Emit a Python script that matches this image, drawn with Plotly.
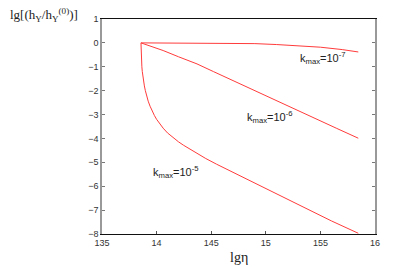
import plotly.graph_objects as go

# Data
x_k7 = [13.857, 14.2, 14.6, 14.9, 15.1, 15.3, 15.5, 15.7, 15.847]
y_k7 = [0.0, 0.0, -0.01, -0.03, -0.07, -0.12, -0.18, -0.28, -0.38]

x_k6 = [13.857, 13.95, 14.06, 14.2, 14.37, 14.52, 14.67, 14.86, 15.05, 15.25, 15.45, 15.65, 15.847]
y_k6 = [0.0, -0.14, -0.32, -0.58, -0.88, -1.2, -1.52, -1.92, -2.33, -2.76, -3.17, -3.58, -3.99]

x_k5 = [13.857, 13.8575, 13.8585, 13.860, 13.862, 13.865, 13.869, 13.874, 13.880, 13.888,
        13.897, 13.909, 13.923, 13.94, 13.96, 13.98, 14.0, 14.03, 14.06, 14.1, 14.15, 14.2,
        14.245, 14.3, 14.35, 14.45, 14.55, 14.7, 14.85, 15.0, 15.2, 15.4, 15.6, 15.847]
y_k5 = [0.0, -0.2, -0.4, -0.6, -0.8, -1.0, -1.2, -1.4, -1.6, -1.8,
        -2.0, -2.22, -2.44, -2.65, -2.86, -3.04, -3.2, -3.4, -3.57, -3.77, -3.97, -4.14,
        -4.28, -4.44, -4.58, -4.84, -5.08, -5.42, -5.76, -6.1, -6.55, -7.0, -7.45, -7.97]

x_ticks = [13.5, 14, 14.5, 15, 15.5, 16]
x_tick_labels = ["135", "14", "145", "15", "155", "16"]
y_ticks = [1, 0, -1, -2, -3, -4, -5, -6, -7, -8]

labels = ["k<sub>max</sub>=10<sup>-7</sup>", "k<sub>max</sub>=10<sup>-6</sup>", "k<sub>max</sub>=10<sup>-5</sup>"]
label_x = [15.295, 14.81, 13.946]
label_y = [-0.63, -3.1, -5.4]

line_color = "#ff3b3b"

fig = go.Figure()
for xs, ys in [(x_k7, y_k7), (x_k6, y_k6), (x_k5, y_k5)]:
    fig.add_trace(go.Scatter(x=xs, y=ys, mode="lines", line=dict(color=line_color, width=1),
                             showlegend=False, hoverinfo="skip"))

for t, lx, ly in zip(labels, label_x, label_y):
    fig.add_annotation(x=lx, y=ly, text=t, showarrow=False, xanchor="left", yanchor="middle",
                       font=dict(family="Liberation Sans, Arial", size=11, color="#222"))

fig.add_annotation(xref="paper", yref="paper", x=-0.344, y=1.02, xanchor="left", yanchor="middle",
                   text="lg[(h<sub>Y</sub>/h<sub>Y</sub><sup>(0)</sup>)]", showarrow=False,
                   font=dict(family="Liberation Serif, Times New Roman", size=13, color="#222"))
fig.add_annotation(xref="paper", yref="paper", x=0.5, y=-0.107, xanchor="center", yanchor="middle",
                   text="lgη", showarrow=False,
                   font=dict(family="Liberation Serif, Times New Roman", size=14, color="#222"))

fig.update_xaxes(range=[13.5, 16], tickvals=x_ticks, ticktext=x_tick_labels,
                 showgrid=False, zeroline=False, showline=True, linecolor="#111", linewidth=1,
                 mirror=True, ticks="inside", ticklen=3, tickcolor="#555",
                 tickfont=dict(family="Liberation Sans, Arial", size=9, color="#333"))
fig.update_yaxes(range=[-8, 1], tickvals=y_ticks,
                 showgrid=False, zeroline=False, showline=True, linecolor="#999", linewidth=1.5,
                 mirror="ticks", ticks="inside", ticklen=3, tickcolor="#777",
                 tickfont=dict(family="Liberation Sans, Arial", size=9, color="#333"))

fig.update_layout(width=408, height=267, margin=dict(l=102, r=33, t=19, b=33),
                  plot_bgcolor="white", paper_bgcolor="white")

fig.write_html("out.html", config={"displayModeBar": False},
               post_script="document.body.style.margin='0px';")
